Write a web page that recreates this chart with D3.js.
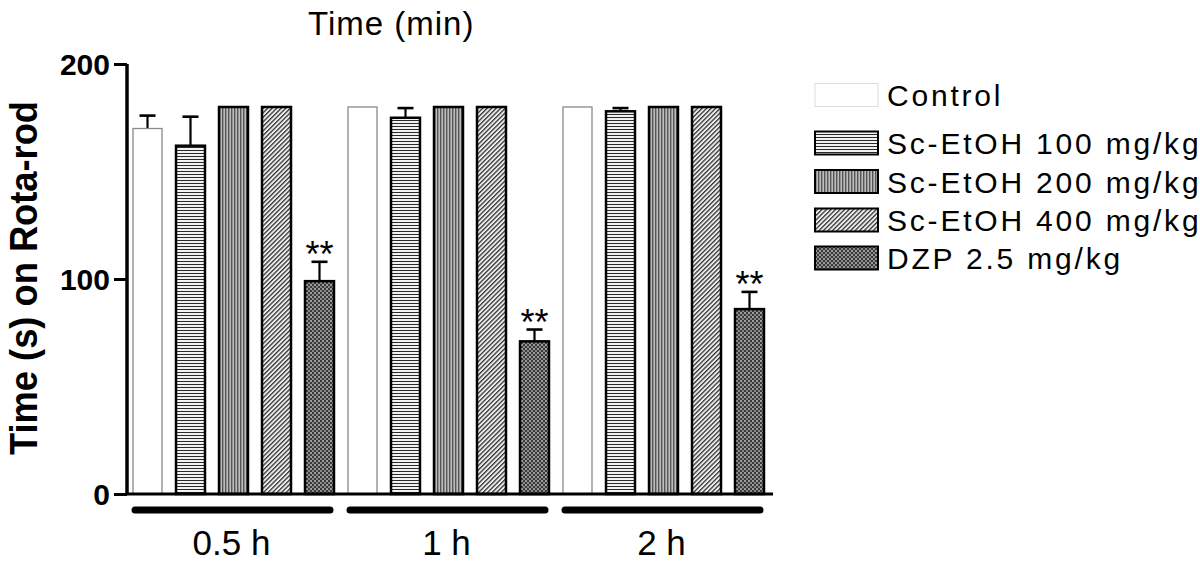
<!DOCTYPE html>
<html>
<head>
<meta charset="utf-8">
<script src="https://cdn.jsdelivr.net/npm/d3@7"></script>
<style>
  body { margin: 0; background: #fff; }
  svg { font-family: "Liberation Sans", Arial, Helvetica, sans-serif; }
</style>
</head>
<body>
<svg id="chart" width="1200" height="564"></svg>
<script>
// time points and treatment groups
const timePoints = ["0.5 h", "1 h", "2 h"];
const treatments = ["Control", "Sc-EtOH 100 mg/kg", "Sc-EtOH 200 mg/kg", "Sc-EtOH 400 mg/kg", "DZP 2.5 mg/kg"];

// mean time on rod (s), one value per time point
const controlMean = [170, 180, 180];
const sc100Mean = [162, 175, 178];
const sc200Mean = [180, 180, 180];
const sc400Mean = [180, 180, 180];
const dzpMean = [99, 71, 86];

// SEM (upper whisker only)
const controlErr = [6, 0, 0];
const sc100Err = [13.5, 4.5, 1.5];
const sc200Err = [0, 0, 0];
const sc400Err = [0, 0, 0];
const dzpErr = [9, 5.5, 8];

// significance marks
const dzpStars = ["**", "**", "**"];

const yTicks = [0, 100, 200];

const allMeans = [controlMean, sc100Mean, sc200Mean, sc400Mean, dzpMean];
const allErrs = [controlErr, sc100Err, sc200Err, sc400Err, dzpErr];
const allStars = [["", "", ""], ["", "", ""], ["", "", ""], ["", "", ""], dzpStars];

const svg = d3.select("#chart");

// ---- patterns ----
const defs = svg.append("defs");

const pH = defs.append("pattern").attr("id", "pat-h")
    .attr("patternUnits", "userSpaceOnUse").attr("width", 4).attr("height", 3);
pH.append("rect").attr("width", 4).attr("height", 3).attr("fill", "#f2f2f2");
pH.append("rect").attr("y", 0).attr("width", 4).attr("height", 1).attr("fill", "#2a2a2a");

const pV = defs.append("pattern").attr("id", "pat-v")
    .attr("patternUnits", "userSpaceOnUse").attr("width", 3).attr("height", 4);
pV.append("rect").attr("width", 3).attr("height", 4).attr("fill", "#bdbdbd");
pV.append("rect").attr("x", 0).attr("width", 1.4).attr("height", 4).attr("fill", "#555");

const pD = defs.append("pattern").attr("id", "pat-d")
    .attr("patternUnits", "userSpaceOnUse").attr("width", 3.2).attr("height", 6)
    .attr("patternTransform", "rotate(45)");
pD.append("rect").attr("width", 3.2).attr("height", 6).attr("fill", "#eeeeee");
pD.append("rect").attr("width", 1.3).attr("height", 6).attr("fill", "#333");

const pC = defs.append("pattern").attr("id", "pat-c")
    .attr("patternUnits", "userSpaceOnUse").attr("width", 4).attr("height", 4);
pC.append("rect").attr("width", 4).attr("height", 4).attr("fill", "#3a3a3a");
pC.append("rect").attr("x", 0).attr("y", 0).attr("width", 2).attr("height", 2).attr("fill", "#9c9c9c");
pC.append("rect").attr("x", 2).attr("y", 2).attr("width", 2).attr("height", 2).attr("fill", "#8a8a8a");

const fills = ["#ffffff", "url(#pat-h)", "url(#pat-v)", "url(#pat-d)", "url(#pat-c)"];
const strokes = ["#8a8a8a", "#000", "#000", "#000", "#000"];
const strokeW = [1.3, 2.5, 2.5, 2.5, 2.5];

// ---- scales ----
const y = d3.scaleLinear().domain([0, 200]).range([494, 64]);
const x0 = d3.scaleBand().domain(timePoints).range([126, 771]).padding(0);
const x1 = d3.scaleBand().domain(treatments).range([0, x0.bandwidth()])
    .paddingInner(0.326).paddingOuter(0.163);

// ---- bars ----
const groups = svg.selectAll("g.grp")
    .data(timePoints)
    .enter().append("g")
    .attr("class", "grp")
    .attr("transform", d => `translate(${x0(d)},0)`);

groups.each(function (tp, ti) {
    const g = d3.select(this);
    const rows = treatments.map((t, si) => ({
        t, si, mean: allMeans[si][ti], err: allErrs[si][ti], star: allStars[si][ti]
    }));

    // error bars first, bar outline sits on top
    rows.filter(d => d.err > 0).forEach(d => {
        const cx = x1(d.t) + x1.bandwidth() / 2;
        g.append("line")
            .attr("x1", cx).attr("x2", cx)
            .attr("y1", y(d.mean)).attr("y2", y(d.mean + d.err))
            .attr("stroke", "#000").attr("stroke-width", 2.2);
        g.append("line")
            .attr("x1", cx - 8).attr("x2", cx + 8)
            .attr("y1", y(d.mean + d.err)).attr("y2", y(d.mean + d.err))
            .attr("stroke", "#000").attr("stroke-width", 2.6);
    });

    g.selectAll("rect.bar")
        .data(rows)
        .enter().append("rect")
        .attr("class", "bar")
        .attr("x", d => x1(d.t))
        .attr("y", d => y(d.mean))
        .attr("width", x1.bandwidth())
        .attr("height", d => y(0) - y(d.mean))
        .attr("fill", d => fills[d.si])
        .attr("stroke", d => strokes[d.si])
        .attr("stroke-width", d => strokeW[d.si]);

    rows.filter(d => d.star).forEach(d => {
        g.append("text")
            .attr("x", x1(d.t) + x1.bandwidth() / 2)
            .attr("y", y(d.mean + d.err) + 5)
            .attr("text-anchor", "middle")
            .attr("font-size", 36)
            .text(d.star);
    });

    // group underline + label
    g.append("line")
        .attr("x1", 9).attr("x2", x0.bandwidth() - 11)
        .attr("y1", 510).attr("y2", 510)
        .attr("stroke", "#000").attr("stroke-width", 7)
        .attr("stroke-linecap", "round");
    g.append("text")
        .attr("x", x0.bandwidth() / 2 - 2)
        .attr("y", 555)
        .attr("text-anchor", "middle")
        .attr("font-size", 35)
        .text(tp);
});

// ---- axes ----
const yAxis = svg.append("g")
    .attr("transform", "translate(127,0)")
    .call(d3.axisLeft(y).tickValues(yTicks).tickSize(13).tickPadding(4).tickFormat(d3.format("d")));
yAxis.attr("font-size", 30).attr("font-weight", "bold")
    .attr("font-family", "'Liberation Sans', Arial, sans-serif");
yAxis.select(".domain").attr("stroke-width", 3.5).attr("d", `M0,${y(200)}V${y(0)}`);
yAxis.selectAll(".tick line").attr("stroke-width", 3);
yAxis.selectAll(".tick text").attr("dy", "0.36em");

svg.append("line")
    .attr("x1", 126).attr("x2", 773)
    .attr("y1", y(0)).attr("y2", y(0))
    .attr("stroke", "#000").attr("stroke-width", 3);

// ---- titles ----
svg.append("text")
    .attr("x", 308).attr("y", 35)
    .attr("font-size", 33)
    .style("letter-spacing", "1px")
    .text("Time (min)");

svg.append("text")
    .attr("transform", "translate(37,278) rotate(-90)")
    .attr("text-anchor", "middle")
    .attr("font-size", 38)
    .attr("font-weight", "bold")
    .attr("textLength", 354)
    .attr("lengthAdjust", "spacingAndGlyphs")
    .text("Time (s) on Rota-rod");

// ---- legend ----
const legendY = [95, 143, 181.5, 220, 258];
const legend = svg.selectAll("g.leg")
    .data(treatments)
    .enter().append("g")
    .attr("class", "leg")
    .attr("transform", (d, i) => `translate(815,${legendY[i]})`);

legend.append("rect")
    .attr("x", 0).attr("y", -11.5)
    .attr("width", 63).attr("height", 23)
    .attr("fill", (d, i) => fills[i])
    .attr("stroke", (d, i) => i === 0 ? "#dddddd" : "#000")
    .attr("stroke-width", (d, i) => i === 0 ? 1 : 2);

legend.append("text")
    .attr("x", 72).attr("y", 11)
    .attr("font-size", 30)
    .style("letter-spacing", "2.8px")
    .text(d => d);
</script>
</body>
</html>
